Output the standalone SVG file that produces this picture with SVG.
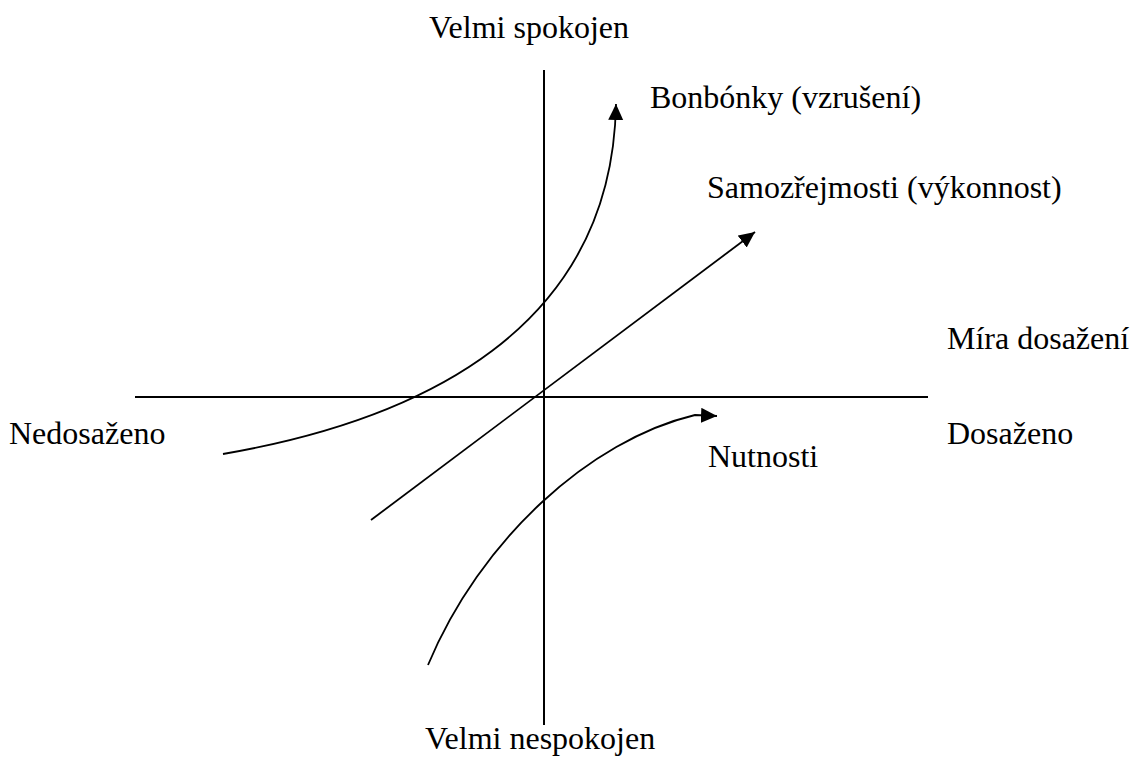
<svg xmlns="http://www.w3.org/2000/svg" width="1132" height="762" viewBox="0 0 1132 762">
<style>
.lbl{font-family:"Liberation Serif","Times New Roman",serif;font-size:32px;fill:#000}
.ax{stroke:#000;stroke-width:2;fill:none}
.cv{stroke:#000;stroke-width:1.8;fill:none;marker-end:url(#ah)}
</style>
<defs>
<marker id="ah" markerUnits="userSpaceOnUse" markerWidth="17" markerHeight="16" viewBox="0 0 17 16" refX="16" refY="7.5" orient="auto">
<path d="M0,0 L16,7.5 L0,15 Z" fill="#000"/>
</marker>
</defs>
<g id="axes">
<line class="ax" x1="544" y1="70" x2="544" y2="725"/>
<line class="ax" x1="135" y1="397" x2="928" y2="397"/>
</g>
<g id="connectors">
<path class="cv" d="M223,454 C420,420 612,330 616,104"/>
<path class="cv" d="M371,520 L755,232"/>
<path class="cv" d="M428,665 C480,540 590,440 695,415 L717,416"/>
</g>
<g id="label-top"><text class="lbl" x="429" y="38">Velmi spokojen</text></g>
<g id="label-bottom"><text class="lbl" x="425" y="749">Velmi nespokojen</text></g>
<g id="label-left"><text class="lbl" x="9" y="444">Nedosaženo</text></g>
<g id="label-right"><text class="lbl" x="947" y="444">Dosaženo</text></g>
<g id="label-axis"><text class="lbl" x="947" y="349">Míra dosažení</text></g>
<g id="node-bonbonky"><text class="lbl" x="650" y="108">Bonbónky (vzrušení)</text></g>
<g id="node-samozrejmosti"><text class="lbl" x="707" y="198">Samozřejmosti (výkonnost)</text></g>
<g id="node-nutnosti"><text class="lbl" x="708" y="467">Nutnosti</text></g>
</svg>
